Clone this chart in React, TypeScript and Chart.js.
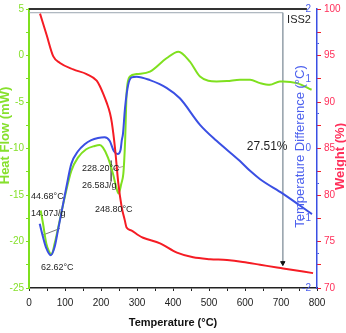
import React, { useEffect, useRef } from "react";
import { Chart, registerables } from "chart.js";
Chart.register(...registerables);

// ---- Heat flow (mW), green, left axis ----
const tempGreen = [32.5, 38.9, 48, 55, 62.6, 71.4, 85.3, 99.2, 117.5, 136, 159, 182.5, 196.4, 205.6, 219.4, 233.3, 242.5, 248.8, 256.4, 262, 264.5, 267, 271.4, 280.6, 299, 336, 382, 415, 447, 475, 521, 550, 586, 614, 642, 669, 697, 706, 744, 785];
const heatFlow = [-16.67, -18.06, -20.2, -21.0, -21.4, -20.2, -17.74, -15.25, -12.4, -10.98, -10.08, -9.73, -9.63, -9.91, -10.98, -12.72, -14.18, -14.85, -13.79, -12.72, -11.3, -9.2, -3.86, -2.26, -2.0, -1.73, -0.3, 0.41, -0.66, -2.26, -2.79, -2.75, -2.61, -2.61, -2.97, -3.15, -2.79, -2.79, -2.97, -3.68];

// ---- Temperature difference (°C), blue, right axis ----
const tempBlue = [29.7, 38.9, 48, 60.3, 71.4, 80.6, 89.7, 103.6, 117.5, 136, 154.7, 173, 191.7, 210, 224, 236, 246.4, 254.7, 257.5, 261, 266.7, 275.8, 285, 299, 336, 382, 419, 475, 521, 586, 614, 642, 706, 786];
const tempDiff = [-1.08, -1.27, -1.43, -1.53, -1.41, -1.17, -0.93, -0.56, -0.22, -0.04, 0.06, 0.12, 0.15, 0.16, 0.11, -0.04, -0.08, -0.01, 0.11, 0.21, 0.58, 0.92, 1.02, 1.03, 0.98, 0.87, 0.72, 0.34, 0.11, -0.18, -0.32, -0.44, -0.65, -0.94];

// ---- Weight (%), red, right axis ----
const tempRed = [30.6, 49, 67.5, 86, 123, 160, 188, 197, 206, 216, 225, 230, 239, 248, 257.5, 266, 271, 284, 303, 317, 364, 411, 456, 503, 550, 594, 642, 689, 706, 789];
const weight = [99.5, 97.2, 94.9, 94.2, 93.5, 93.0, 92.3, 91.7, 90.9, 89.9, 88.8, 87.8, 85.0, 81.3, 78.7, 77.3, 76.5, 76.2, 75.7, 75.4, 74.8, 73.8, 73.3, 73.1, 73.0, 72.8, 72.5, 72.2, 72.1, 71.6];

// ---- Frame / marker lines ----
const frameT = [0, 705, 705];
const frameW = [99.6, 99.6, 72.4];
const topT = [0, 772];
const topW = [100, 100];
const base1T = [38.9, 86];
const base1HF = [-19.3, -18.6];
const base2T = [228.2, 264];
const base2HF = [-12.3, -11.9];
const mark2T = [228.2, 228.2];
const mark2HF = [-11.3, -13.5];

// ---- Annotations ----
const noteTexts = ["44.68°C", "14.07J/g", "62.62°C", "228.20°C", "26.58J/g", "248.80°C", "27.51%", "ISS2"];
const noteT = [5.6, 5.6, 33.3, 147, 147, 183, 605, 717];
const noteHF = [-15.2, -17.0, -22.8, -12.2, -14.0, -16.6, -9.84, 3.83];
const noteSizes = [9, 9, 9, 9, 9, 9, 12, 11];

const xTitle = "Temperature (°C)";
const greenTitle = "Heat Flow (mW)";
const blueTitle = "Temperature Difference (°C)";
const redTitle = "Weight (%)";

const GREEN = "#7fe01f";
const GREEN_TXT = "#86e02c";
const BLUE = "#3a4fe3";
const BLUE_TXT = "#4d61ee";
const RED = "#f51c24";
const RED_TXT = "#ff2f5a";
const NARROW = "'Liberation Sans Narrow', 'Arial Narrow', 'Liberation Sans', sans-serif";
const SANS = "'Liberation Sans', Arial, sans-serif";

const pts = (xs: number[], ys: number[]) => xs.map((x, i) => ({ x, y: ys[i] }));

export default function App() {
  const ref = useRef<HTMLCanvasElement>(null);
  useEffect(() => {
    if (!ref.current) return;
    const notesPlugin = {
      id: "notes",
      afterDatasetsDraw(chart: any) {
        const { ctx, scales, chartArea } = chart;
        ctx.save();
        ctx.fillStyle = "#1e1e1e";
        ctx.textBaseline = "middle";
        ctx.textAlign = "left";
        noteTexts.forEach((t, i) => {
          ctx.font = `${noteSizes[i]}px ${NARROW}`;
          ctx.fillText(t, scales.x.getPixelForValue(noteT[i]), scales.y.getPixelForValue(noteHF[i]));
        });
        ctx.restore();
      },
      afterDraw(chart: any) {
        const { ctx, chartArea } = chart;
        const mid = (chartArea.top + chartArea.bottom) / 2;
        const vtext = (t: string, x: number, y: number, font: string, color: string) => {
          ctx.save();
          ctx.translate(x, y);
          ctx.rotate(-Math.PI / 2);
          ctx.textAlign = "center";
          ctx.textBaseline = "middle";
          ctx.fillStyle = color;
          ctx.font = font;
          ctx.fillText(t, 0, 0);
          ctx.restore();
        };
        vtext(greenTitle, chartArea.left - 24, mid - 13, `bold 13px ${SANS}`, GREEN_TXT);
        vtext(blueTitle, chartArea.right - 17, mid - 2, `13px ${SANS}`, BLUE_TXT);
        vtext(redTitle, chartArea.right + 23, mid + 8, `bold 13px ${SANS}`, RED_TXT);
      },
    };

    const line = (data: any[], axis: string, color: string, width: number, extra: any = {}) => ({
      data,
      yAxisID: axis,
      borderColor: color,
      backgroundColor: color,
      borderWidth: width,
      pointRadius: 0,
      fill: false,
      ...extra,
    });

    const chart = new Chart(ref.current, {
      type: "line",
      data: {
        datasets: [
          line(pts(tempRed, weight), "y3", RED, 2, { cubicInterpolationMode: "monotone" }),
          line(pts(tempBlue, tempDiff), "y2", BLUE, 2, { cubicInterpolationMode: "monotone" }),
          line(pts(tempGreen, heatFlow), "y", GREEN, 2, { cubicInterpolationMode: "monotone" }),
          line([{ x: 705, y: 72.7 }], "y3", "#111", 1, { showLine: false, pointRadius: 2.5, pointStyle: "triangle", rotation: 180 }),
          line(pts(base1T, base1HF), "y", "#555", 0.8),
          line(pts(base2T, base2HF), "y", "#a08090", 0.8),
          line(pts(mark2T, mark2HF), "y", "#555", 0.8),
          line(pts(frameT, frameW), "y3", "#9aa6b0", 1),
          line(pts(topT, topW), "y3", "#333", 2, { clip: false }),
        ],
      },
      options: {
        animation: false,
        responsive: false,
        events: [],
        layout: { padding: { top: 7, left: 0, right: 0, bottom: 0 } },
        plugins: { legend: { display: false }, tooltip: { enabled: false } },
        scales: {
          x: {
            type: "linear",
            position: "bottom",
            min: 0,
            max: 800,
            afterFit: (s: any) => { s.height = 45; },
            ticks: {
              stepSize: 50,
              autoSkip: false,
              maxRotation: 0,
              callback: (v: any) => (v % 100 === 0 ? String(v) : ""),
              color: "#222",
              font: { family: NARROW, size: 10 },
              padding: 6,
            },
            grid: { drawOnChartArea: false, tickLength: 3, color: "#222" },
            border: { color: "#222", width: 1.5 },
            title: { display: true, text: xTitle, color: "#111", font: { family: NARROW, size: 11, weight: "bold" }, padding: { top: 0, bottom: 3 } },
          },
          y: {
            type: "linear",
            position: "left",
            min: -25,
            max: 5,
            afterFit: (s: any) => { s.width = 29; },
            ticks: {
              stepSize: 2.5,
              autoSkip: false,
              callback: (v: any) => (Math.abs(v % 5) < 1e-6 ? String(v) : ""),
              color: GREEN_TXT,
              font: { family: NARROW, size: 10 },
              padding: 2,
            },
            grid: { drawOnChartArea: false, tickLength: 3, color: GREEN },
            border: { color: GREEN, width: 2 },
          },
          y2: {
            type: "linear",
            position: "right",
            weight: 0,
            min: -2,
            max: 2,
            afterFit: (s: any) => { s.width = 0; },
            ticks: {
              stepSize: 0.5,
              autoSkip: false,
              mirror: true,
              callback: (v: any) => (Math.abs(v % 1) < 1e-6 ? String(v) : ""),
              color: BLUE_TXT,
              font: { family: NARROW, size: 10 },
              padding: -6,
            },
            grid: { drawOnChartArea: false, tickLength: 2, color: BLUE },
            border: { color: BLUE, width: 1.5 },
          },
          y3: {
            type: "linear",
            position: "right",
            weight: 1,
            min: 70,
            max: 100,
            afterFit: (s: any) => { s.width = 29; },
            ticks: {
              stepSize: 2.5,
              autoSkip: false,
              callback: (v: any) => (Math.abs(v % 5) < 1e-6 ? String(v) : ""),
              color: RED_TXT,
              font: { family: NARROW, size: 10 },
              padding: 3,
            },
            grid: { drawOnChartArea: false, tickLength: 4, color: RED },
            border: { display: false },
          },
        },
      } as any,
      plugins: [notesPlugin],
    });
    return () => chart.destroy();
  }, []);

  return (
    <div style={{ position: "absolute", left: 0, top: 0, width: 346, height: 333, background: "#fff" }}>
      <canvas ref={ref} width={346} height={333} style={{ width: 346, height: 333 }} />
    </div>
  );
}
